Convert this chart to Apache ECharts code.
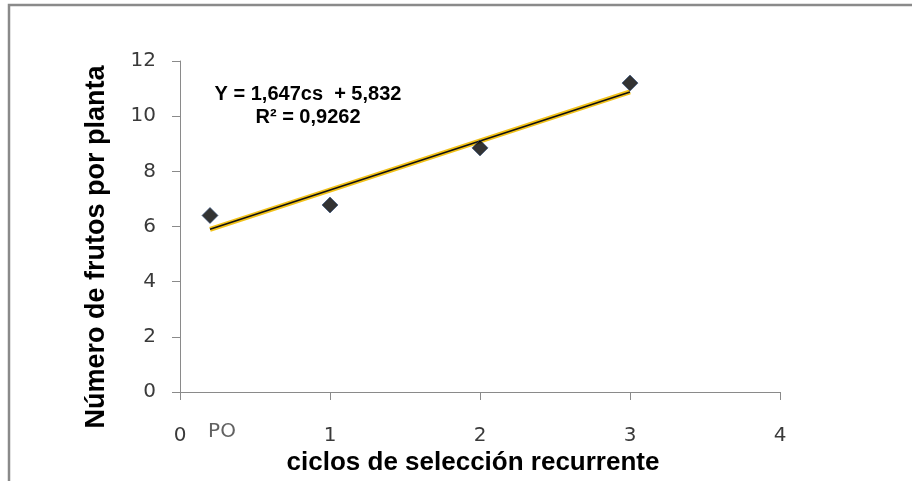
<!DOCTYPE html>
<html>
<head>
<meta charset="utf-8">
<script src="https://cdn.jsdelivr.net/npm/echarts@6/dist/echarts.min.js"></script>
<style>
  html, body { margin: 0; padding: 0; background: #fff; }
  #chart { width: 912px; height: 481px; }
</style>
</head>
<body>
<div id="chart"></div>
<script>
// Recurrent selection cycles vs. fruits per plant
const cycles = [0.2, 1, 2, 3];
const fruits = [6.4, 6.78, 8.85, 11.2];

// Linear trend line end points (cycle, fruits)
const trendCycles = [0.2, 3];
const trendFruits = [5.9, 10.88];

// Label for the base population (cycle 0)
const baseLabelCycle = [0.2];
const baseLabelText = 'PO';

const equationLines = ['Y = 1,647cs  + 5,832', 'R² = 0,9262'];

const xTitle = 'ciclos de selección recurrente';
const yTitle = 'Número de frutos por planta';

const points = cycles.map((c, i) => [c, fruits[i]]);
const trend = trendCycles.map((c, i) => [c, trendFruits[i]]);

const axisGray = '#8a8a8a';
const tickFont = { fontFamily: 'DejaVu Sans', fontSize: 20, color: '#3a3a3a' };
const titleFont = { fontFamily: 'Liberation Sans', fontWeight: 'bold', fill: '#000' };

const chart = echarts.init(document.getElementById('chart'), null, { renderer: 'canvas' });
chart.setOption({
  animation: false,
  backgroundColor: '#fff',
  grid: { left: 180, right: 132, top: 61, bottom: 89, containLabel: false, outerBoundsMode: 'none' },
  xAxis: {
    type: 'value', min: 0, max: 4, interval: 1,
    splitLine: { show: false },
    axisLine: { show: true, onZero: false, lineStyle: { color: axisGray, width: 1 } },
    axisTick: { show: true, length: 8, inside: false, lineStyle: { color: axisGray } },
    axisLabel: Object.assign({ margin: 34 }, tickFont)
  },
  yAxis: {
    type: 'value', min: 0, max: 12, interval: 2,
    splitLine: { show: false },
    axisLine: { show: true, onZero: false, lineStyle: { color: axisGray, width: 1 } },
    axisTick: { show: true, length: 8, inside: false, lineStyle: { color: axisGray } },
    axisLabel: Object.assign({ margin: 24 }, tickFont)
  },
  series: [
    {
      type: 'line', data: trend, symbol: 'none', silent: true, z: 2,
      lineStyle: { color: '#f2c21a', width: 5 }
    },
    {
      type: 'line', data: trend, symbol: 'none', silent: true, z: 3,
      lineStyle: { color: '#111', width: 1.6 }
    },
    {
      type: 'scatter', data: points, symbol: 'diamond', symbolSize: 16, z: 4,
      itemStyle: { color: '#000', borderColor: '#2c4a78', borderWidth: 0.8 }
    },
    {
      type: 'scatter', data: baseLabelCycle.map(c => [c, 0]), symbolSize: 0, silent: true, z: 5,
      label: {
        show: true, position: 'bottom', distance: 30, offset: [12, 0],
        formatter: baseLabelText,
        fontFamily: 'DejaVu Sans', fontSize: 20, color: '#3a3a3a'
      }
    }
  ],
  graphic: [
    {
      type: 'rect', silent: true, z: 0,
      shape: { x: 9, y: 5, width: 960, height: 540 },
      style: { fill: 'none', stroke: '#8a8a8a', lineWidth: 2.5 }
    },
    {
      type: 'text', silent: true, z: 10,
      x: 308, y: 83,
      style: Object.assign({
        text: equationLines.join('\n'),
        align: 'center', verticalAlign: 'top',
        fontSize: 20, lineHeight: 23
      }, titleFont)
    },
    {
      type: 'text', silent: true, z: 10,
      x: 473, y: 463,
      style: Object.assign({
        text: xTitle, align: 'center', verticalAlign: 'middle', fontSize: 26
      }, titleFont)
    },
    {
      type: 'text', silent: true, z: 10,
      x: 97, y: 247, rotation: Math.PI / 2,
      style: Object.assign({
        text: yTitle, align: 'center', verticalAlign: 'middle', fontSize: 27
      }, titleFont)
    }
  ]
});
</script>
</body>
</html>
